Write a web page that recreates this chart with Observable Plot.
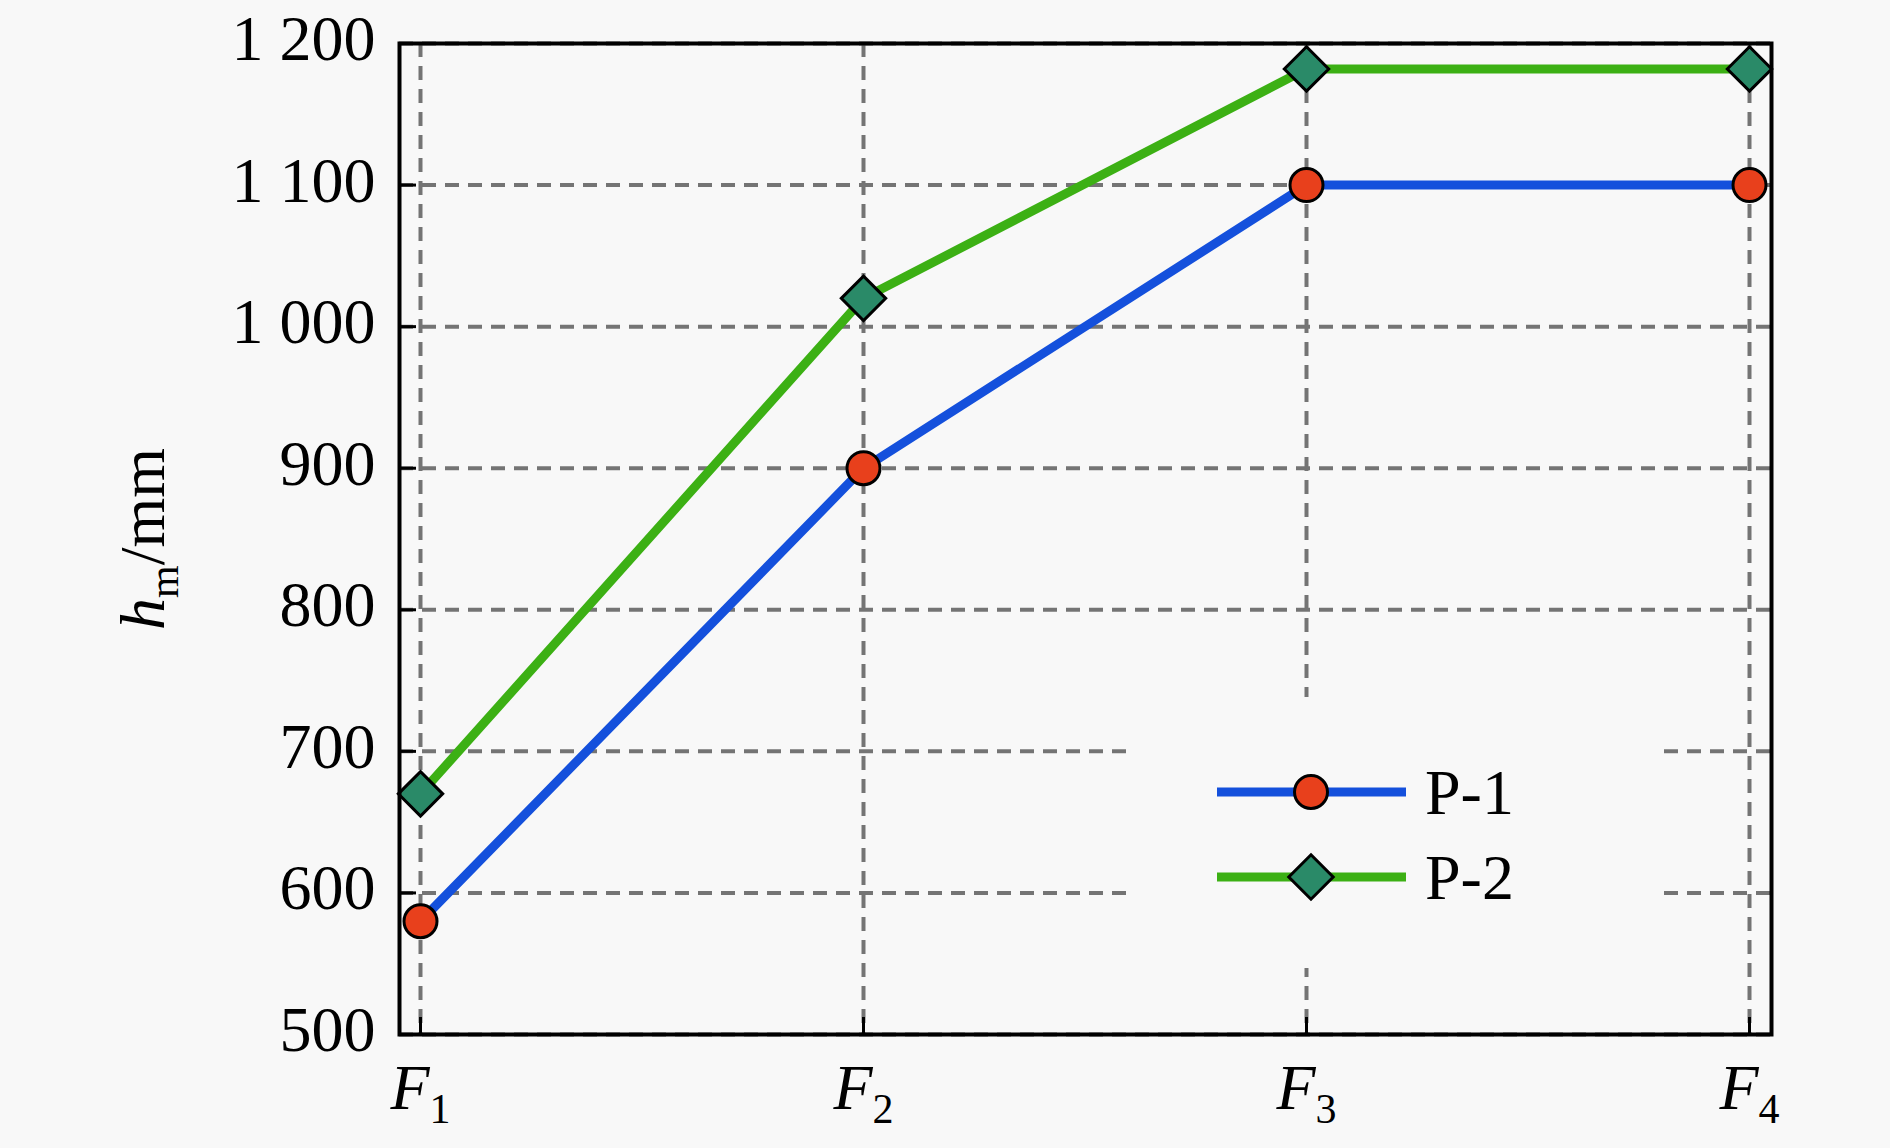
<!DOCTYPE html>
<html>
<head>
<meta charset="utf-8">
<script src="https://cdn.jsdelivr.net/npm/d3@7"></script>
<script src="https://cdn.jsdelivr.net/npm/@observablehq/plot@0.6"></script>
<style>
  html, body { margin: 0; padding: 0; background: #f8f8f8; }
  #chart svg { display: block; }
</style>
</head>
<body>
<div id="chart"></div>
<script>
// ---- data ----
const categories = ["F1", "F2", "F3", "F4"];
const categorySubscripts = ["1", "2", "3", "4"];
const seriesNames = ["P-1", "P-2"];
const p1Values = [580, 900, 1100, 1100];
const p2Values = [670, 1020, 1182, 1182];
const yTicks = [500, 600, 700, 800, 900, 1000, 1100, 1200];

// ---- styles ----
const BG = "#f8f8f8";
const BLUE = "#1450dc";
const GREEN = "#3cb014";
const RED = "#e8401c";
const TEAL = "#2a8a68";
const GRID = "#747474";
const FONT = "'Liberation Serif', 'Times New Roman', serif";

const W = 1890, H = 1148;
const mL = 399, mR = 119, mT = 43, mB = 114;
const plotW = W - mL - mR, plotH = H - mT - mB;
const tickLen = 17;
const circleR = 16.5, diamondR = 20;
const LINE_W = 9;

const p1Rows = categories.map((c, i) => ({cat: c, value: p1Values[i]}));
const p2Rows = categories.map((c, i) => ({cat: c, value: p2Values[i]}));

const fmt = d => d >= 1000 ? d3.format(",")(d).replace(",", " ") : String(d);

const gridStyle = {stroke: GRID, strokeOpacity: 1, strokeWidth: 4, strokeDasharray: "14,9"};

const chart = Plot.plot({
  width: W, height: H,
  marginLeft: mL, marginRight: mR, marginTop: mT, marginBottom: mB,
  style: {fontFamily: FONT, fontSize: "64px", background: BG, color: "black"},
  x: {type: "point", domain: categories, padding: 0, insetLeft: 20, insetRight: 22},
  y: {domain: [500, 1200]},
  marks: [
    Plot.gridY(yTicks, gridStyle),
    Plot.gridX(categories, gridStyle),
    Plot.tickY(yTicks, {y: d => d, insetRight: plotW - tickLen, stroke: "black", strokeWidth: 3}),
    Plot.tickX(categories, {x: d => d, insetTop: plotH - tickLen, stroke: "black", strokeWidth: 3}),
    Plot.line(p1Rows, {x: "cat", y: "value", stroke: BLUE, strokeWidth: LINE_W}),
    Plot.line(p2Rows, {x: "cat", y: "value", stroke: GREEN, strokeWidth: LINE_W}),
    Plot.dot(p1Rows, {x: "cat", y: "value", r: circleR, symbol: "circle", fill: RED, stroke: "black", strokeWidth: 3}),
    Plot.dot(p2Rows, {x: "cat", y: "value", r: diamondR, symbol: "diamond2", fill: TEAL, stroke: "black", strokeWidth: 3}),
    Plot.frame({stroke: "black", strokeWidth: 4}),
    Plot.axisY(yTicks, {tickSize: 0, tickPadding: 24, tickFormat: fmt, dy: -4,
      label: "hm/mm", labelAnchor: "center", labelOffset: 281}),
    Plot.axisX(categories, {tickSize: 0, tickPadding: 29, label: null})
  ]
});

document.getElementById("chart").appendChild(chart);
const svg = d3.select(chart);

// x tick labels: italic F with subscript
svg.selectAll('[aria-label="x-axis tick label"] text').each(function() {
  const t = d3.select(this);
  const txt = t.text();
  const idx = categories.indexOf(txt);
  const sub = idx >= 0 ? categorySubscripts[idx] : txt.slice(1);
  t.text(null);
  t.append("tspan").attr("font-style", "italic").text("F");
  t.append("tspan").attr("font-size", "42px").attr("dy", "14").text(sub);
});

// y axis label: italic h with subscript m, then /mm
svg.selectAll('[aria-label="y-axis label"] text').each(function() {
  const t = d3.select(this);
  t.text(null);
  t.append("tspan").attr("font-style", "italic").text("h");
  t.append("tspan").attr("font-size", "42px").attr("dy", "14").text("m");
  t.append("tspan").attr("dy", "-14").text("/mm");
});

// legend box (occludes gridlines) and items, inside the plot
const firstTick = chart.querySelector('[aria-label="tick"]');
const legBox = {x0: 1135, x1: 1660, y0: 697, y1: 968};
svg.insert("rect", () => firstTick)
  .attr("x", legBox.x0).attr("y", legBox.y0)
  .attr("width", legBox.x1 - legBox.x0).attr("height", legBox.y1 - legBox.y0)
  .attr("fill", BG);

const legend = svg.append("g").attr("class", "legend").attr("text-anchor", "start");
const legendItems = [
  {name: seriesNames[0], color: BLUE, fill: RED, sym: d3.symbolCircle, r: circleR, y: 792},
  {name: seriesNames[1], color: GREEN, fill: TEAL, sym: d3.symbolDiamond2, r: diamondR, y: 877}
];
const lx0 = 1217, lx1 = 1406, lxm = 1311, tx = 1425;
legendItems.forEach(it => {
  legend.append("line").attr("x1", lx0).attr("x2", lx1).attr("y1", it.y).attr("y2", it.y)
    .attr("stroke", it.color).attr("stroke-width", LINE_W);
  legend.append("path").attr("d", d3.symbol(it.sym, Math.PI * it.r * it.r)())
    .attr("transform", `translate(${lxm},${it.y})`)
    .attr("fill", it.fill).attr("stroke", "black").attr("stroke-width", 3);
  legend.append("text").attr("x", tx).attr("y", it.y + 22).attr("text-anchor", "start")
    .attr("font-family", FONT).attr("font-size", "64px").attr("fill", "black").text(it.name);
});
</script>
</body>
</html>
